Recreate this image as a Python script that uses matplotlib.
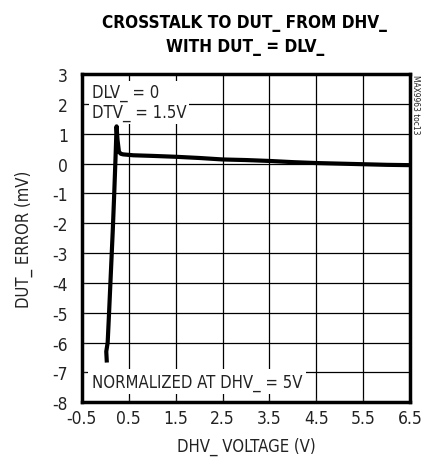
import matplotlib.pyplot as plt
import numpy as np

plt.rcParams['font.family'] = ['DejaVu Sans']
plt.rcParams['font.stretch'] = 'condensed'
plt.rcParams['axes.unicode_minus'] = False

# error curve
dhv = [0.03, 0.02, 0.05, 0.08, 0.12, 0.16, 0.19, 0.22, 0.24, 0.26, 0.29, 0.33, 0.38,
       0.6, 1.0, 1.5, 2.0, 2.5, 3.0, 3.5, 4.0, 4.5, 5.0, 5.5, 6.0, 6.45]
err = [-6.6, -6.3, -6.0, -5.0, -3.6, -2.2, -1.0, 0.3, 1.25, 0.8, 0.4, 0.33, 0.31,
       0.28, 0.26, 0.23, 0.19, 0.14, 0.12, 0.09, 0.05, 0.02, 0.0, -0.02, -0.04, -0.05]

xticks = [-0.5, 0.5, 1.5, 2.5, 3.5, 4.5, 5.5, 6.5]
yticks = list(range(-8, 4))

fig = plt.figure(figsize=(4.22, 4.64), dpi=100)
ax = fig.add_axes([0.194, 0.131, 0.778, 0.707])

ax.plot(dhv, err, color='black', lw=3, solid_joinstyle='round', zorder=5)

ax.set_xlim(-0.5, 6.5)
ax.set_ylim(-8, 3)
ax.set_xticks(xticks)
ax.set_xticklabels(['%g' % t for t in xticks])
ax.set_yticks(yticks)
ax.grid(True, color='black', lw=0.9)
ax.tick_params(direction='in', length=3, labelsize=12.5, width=0.8, colors='#222222')
ax.tick_params(axis='x', pad=5)
ax.tick_params(axis='y', pad=10)
for s in ax.spines.values():
    s.set_linewidth(2.5)

ax.text(0.03, 0.972, 'DLV_ = 0\nDTV_ = 1.5V', transform=ax.transAxes,
        fontsize=12, va='top', ha='left', linespacing=1.1, zorder=4,
        color='#222222', bbox=dict(facecolor='white', edgecolor='none', pad=2.0))
ax.text(0.03, 0.035, 'NORMALIZED AT DHV_ = 5V', transform=ax.transAxes,
        fontsize=12, va='bottom', ha='left', zorder=4, color='#222222',
        bbox=dict(facecolor='white', edgecolor='none', pad=2.5))

ax.set_xlabel('DHV_ VOLTAGE (V)', fontsize=12, labelpad=7, color='#222222')
ax.set_ylabel('DUT_ ERROR (mV)', fontsize=12, labelpad=14, color='#222222')

fig.text(0.58, 0.97, 'CROSSTALK TO DUT_ FROM DHV_\nWITH DUT_ = DLV_',
         ha='center', va='top', fontsize=12.3, fontweight='heavy', linespacing=1.45)
fig.text(0.985, 0.838, 'MAX9963 toc13', rotation=-90, ha='center', va='top',
         fontsize=6, color='#222222')

fig.savefig('out.png', dpi=100)
